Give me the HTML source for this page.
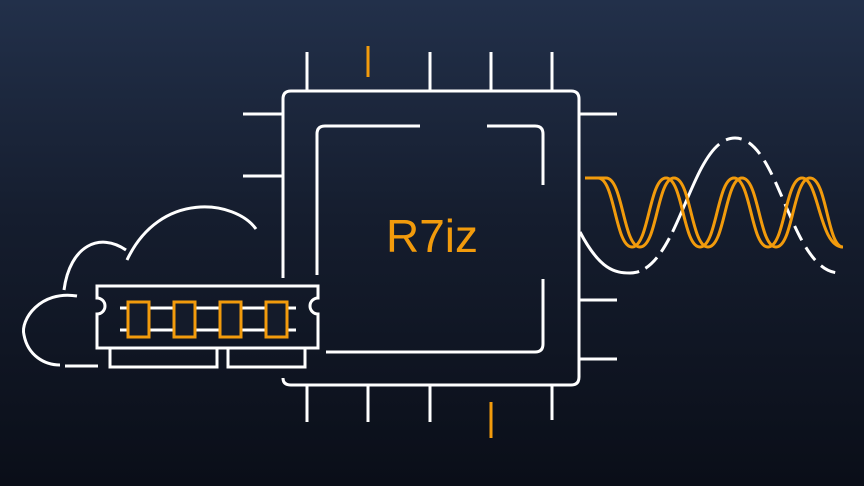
<!DOCTYPE html>
<html><head><meta charset="utf-8"><style>
html,body{margin:0;padding:0;width:864px;height:486px;overflow:hidden}
body{background:linear-gradient(180deg,#22304a 0%,#151d2e 45%,#0a0e18 100%)}
</style></head><body>
<svg width="864" height="486" viewBox="0 0 864 486" xmlns="http://www.w3.org/2000/svg" style="position:absolute;left:0;top:0">
<g fill="none" stroke="#fff" stroke-width="3" stroke-linecap="butt">
<path d="M283 278 V99 Q283 91 291 91 H571 Q579 91 579 99 V377 Q579 385 571 385 H291 Q283 385 283 378"/>
<path d="M307 52V91M430 52V91M491 52V91M552 52V91"/>
<path d="M307 385V422M368 385V422M430 385V422M552 385V420"/>
<path d="M243 114H283M243 176H283"/>
<path d="M579 114H617M579 300H617M579 359H617"/>
<path d="M317 275V134Q317 126 325 126H420"/>
<path d="M487 126H535Q543 126 543 134V185"/>
<path d="M543 279V344Q543 352 535 352H326"/>
<path d="M256 229 C235 200 160 190 127 260"/>
<path d="M126 250 C100 232 70 245 64 290"/>
<path d="M77 296 C40 290 20 320 24 335 C28 356 45 365 60 365"/>
<path d="M65 366H98"/>
<path d="M97 286H318V298A8 8 0 0 0 318 314V348H97V314A8 8 0 0 0 97 298Z"/>
<path d="M120 308H296M120 330H296"/>
<path d="M110 348V367H217V348M228 348V367H305V348"/>
<path d="M580 232 C600 270 615 273 630 273 C680 273 690 138 735 138 C780 138 790 273 840 273" stroke-dasharray="78 7 16 7 16 7 100 8 16 8 16 8 16 8 16 8 16 8 16 8 16 8 16 8 16 8 400"/>
</g>
<g fill="none" stroke="#f29b0c" stroke-width="3">
<path d="M368 46V77M491 402V438"/>
<rect x="128" y="302" width="21" height="35" fill="#141b2a"/>
<rect x="174" y="302" width="21" height="35" fill="#141b2a"/>
<rect x="220" y="302" width="21" height="35" fill="#141b2a"/>
<rect x="266" y="302" width="21" height="35" fill="#141b2a"/>
<path d="M585 178 H598 C615 178 615 247 632 247 C649 247 649 178 666 178 C683 178 683 247 700 247 C717 247 717 178 734 178 C751 178 751 247 768 247 C785 247 785 178 802 178 C819 178 819 247 843 247"/>
<path d="M585 178 H606 C623 178 623 247 640 247 C657 247 657 178 674 178 C691 178 691 247 708 247 C725 247 725 178 742 178 C759 178 759 247 776 247 C793 247 793 178 810 178 C827 178 827 247 843 247"/>
</g>
<text x="432" y="252" text-anchor="middle" font-family="Liberation Sans, sans-serif" font-size="46" fill="#f29b0c">R7iz</text>
</svg>
</body></html>
